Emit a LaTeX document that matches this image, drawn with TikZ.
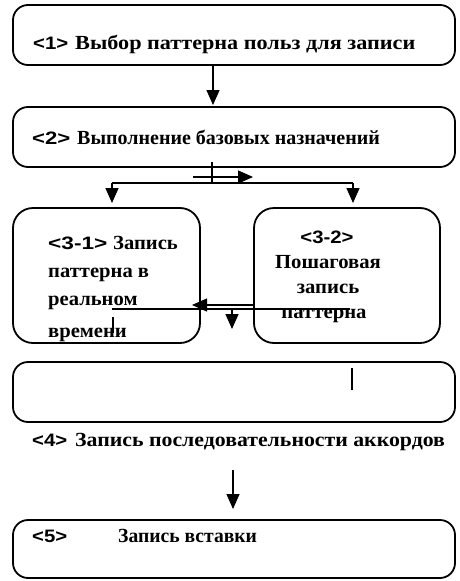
\documentclass[tikz,border=0pt]{standalone}
\usepackage{fontspec}
\usepackage{graphicx}
\setmainfont{Liberation Serif}
\setsansfont{Liberation Sans}
\usetikzlibrary{arrows.meta}
\newcommand{\hs}[2]{\scalebox{#1}[1]{#2}}
\begin{document}
\begin{tikzpicture}[x=1pt,y=-1pt,
  box/.style={draw,line width=1.8pt,rounded corners=15pt,inner sep=0pt},
  tallbox/.style={draw,line width=1.8pt,rounded corners=20pt,inner sep=0pt},
  lbl/.style={anchor=base west,inner sep=0pt,font=\fontsize{18}{21}\selectfont\sffamily\bfseries},
  txt/.style={anchor=base west,inner sep=0pt,font=\fontsize{20}{23}\selectfont\bfseries},
  ctxt/.style={anchor=base,inner sep=0pt,font=\fontsize{20}{23}\selectfont\bfseries},
  con/.style={line width=1.3pt},
  arr/.style={line width=1.3pt,-{Triangle[length=15pt,width=13pt]}}]
\useasboundingbox (0,0) rectangle (459,581);
% boxes
\node[box,minimum width=442pt,minimum height=60pt] (b1) at (234,35) {};
\node[box,minimum width=442pt,minimum height=60pt] (b2) at (234,137) {};
\node[tallbox,minimum width=187pt,minimum height=135pt] (b31) at (106.5,275.5) {};
\node[tallbox,minimum width=186pt,minimum height=135pt] (b32) at (347,275.5) {};
\node[box,minimum width=442pt,minimum height=60pt] (b4) at (234,392) {};
\node[box,minimum width=442pt,minimum height=58pt] (b5) at (234,549) {};
% texts
\node[lbl] (t1a) at (33,49) {\hs{1.13}{<1>}};
\node[txt] (t1b) at (75,49) {\hs{1.11}{Выбор паттерна польз для записи}};
\node[lbl] (t2a) at (32,144) {\hs{1.23}{<2>}};
\node[txt] (t2b) at (77,144) {\hs{1.0}{Выполнение базовых назначений}};
\node[lbl] (t31a) at (48,249) {\hs{1.26}{<3-1>}};
\node[txt] (t31b) at (113,249) {\hs{1.03}{Запись}};
\node[txt] (t31c) at (48,277) {\hs{1.03}{паттерна в}};
\node[txt] (t31d) at (48,305) {\hs{1.03}{реальном}};
\node[txt] (t31e) at (48,337) {\hs{1.03}{времени}};
\node[lbl,anchor=base] (t32a) at (327,243) {\hs{1.13}{<3-2>}};
\node[ctxt] (t32b) at (328,268) {\hs{1.035}{Пошаговая}};
\node[ctxt] (t32c) at (328,293) {\hs{1.035}{запись}};
\node[ctxt] (t32d) at (324,318) {\hs{1.035}{паттерна}};
\node[lbl] (t4a) at (32,446) {\hs{1.13}{<4>}};
\node[txt] (t4b) at (75,446) {\hs{1.09}{Запись последовательности аккордов}};
\node[lbl] (t5a) at (32,542) {\hs{1.13}{<5>}};
\node[txt] (t5b) at (118,542) {\hs{0.98}{Запись вставки}};
% helper coordinates
\coordinate (p1) at (213,65);
\coordinate (p2) at (213,105);
\coordinate (q1) at (212,162);
\coordinate (q2) at (212,184);
\coordinate (r1) at (193,177);
\coordinate (r2) at (253,177);
\coordinate (s1) at (112,183);
\coordinate (s2) at (353,183);
\coordinate (s1e) at (112,203);
\coordinate (s2e) at (353,203);
\coordinate (u1) at (254,305);
\coordinate (u2) at (192,305);
\coordinate (v1) at (112,309);
\coordinate (v2) at (350,309);
\coordinate (w1) at (113,317);
\coordinate (w2) at (113,333);
\coordinate (d1) at (232,309);
\coordinate (d2) at (232,329);
\coordinate (k1) at (352,368);
\coordinate (k2) at (352,390);
\coordinate (m1) at (233,470);
\coordinate (m2) at (233,509);
% connectors
\draw[arr] (p1) -- (p2);
\draw[con] (q1) -- (q2);
\draw[arr] (r1) -- (r2);
\draw[con] (s1) -- (s2);
\draw[arr] (s1) -- (s1e);
\draw[arr] (s2) -- (s2e);
\draw[arr] (u1) -- (u2);
\draw[con] (v1) -- (v2);
\draw[con] (w1) -- (w2);
\draw[arr] (d1) -- (d2);
\draw[con] (k1) -- (k2);
\draw[arr] (m1) -- (m2);
\end{tikzpicture}
\end{document}
